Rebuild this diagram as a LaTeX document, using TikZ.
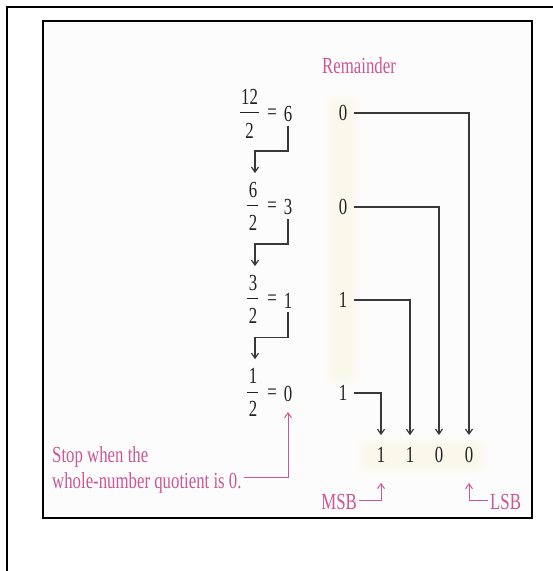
\documentclass[tikz,border=0pt]{standalone}
\usepackage{fontspec}
\setmainfont{Liberation Serif}[FakeStretch=0.73]
\usetikzlibrary{arrows.meta}
\definecolor{ink}{RGB}{34,34,34}
\definecolor{rose}{RGB}{204,86,150}
\definecolor{paper}{RGB}{253,252,252}
\definecolor{glow}{RGB}{246,244,200}

\begin{document}
\begin{tikzpicture}[x=1pt,y=-1pt,
  txt/.style={inner sep=0pt, text=ink, font=\fontsize{23}{27}\selectfont},
  lbl/.style={inner sep=0pt, text=rose, font=\fontsize{23}{27}\selectfont},
  bar/.style={draw=ink, line width=0.8pt},
  wire/.style={draw=ink!90, line width=1.2pt},
  pinkwire/.style={draw=rose, line width=1pt},
  tip/.style={-{Straight Barb[length=5pt,width=7pt]}},
]
% page and frames
\useasboundingbox (0,0) rectangle (553,571);
\fill[white] (0,0) rectangle (553,571);
\draw[line width=2pt] (7,571) -- (7,7) -- (553,7);
\draw[line width=2pt, fill=paper] (43,21) rectangle (532,518);

% soft highlighting behind the remainder column and the result
\foreach \g in {0,3,6,9}{
  \fill[glow, opacity=0.08, rounded corners=8pt] ({333-\g},{102-\g}) rectangle ({351+\g},{378+\g});
  \fill[glow, opacity=0.08, rounded corners=8pt] ({366-\g},{446-\g}) rectangle ({478+\g},{466+\g});
}

% heading
\node[lbl, anchor=base west] (head) at (322,73) {Remainder};

% successive divisions by 2
\node[txt] (n1) at (249.5,97) {12};
\node[txt] (d1) at (249.5,131) {2};
\draw[bar] (240,112) -- (259,112);
\node[txt] (e1) at (272,114) {=};
\node[txt] (q1) at (288,114) {6};

\node[txt] (n2) at (253,190) {6};
\node[txt] (d2) at (253,223) {2};
\draw[bar] (247,205) -- (258,205);
\node[txt] (e2) at (272,207) {=};
\node[txt] (q2) at (288,207) {3};

\node[txt] (n3) at (253,283) {3};
\node[txt] (d3) at (253,316) {2};
\draw[bar] (247,298.5) -- (258,298.5);
\node[txt] (e3) at (272,300.5) {=};
\node[txt] (q3) at (288,300.5) {1};

\node[txt] (n4) at (253,376) {1};
\node[txt] (d4) at (253,409) {2};
\draw[bar] (247,392) -- (258,392);
\node[txt] (e4) at (272,394) {=};
\node[txt] (q4) at (288,394) {0};

% quotient carried to the next division
\draw[wire,tip,shorten <=4pt,shorten >=9pt] (q1.south) -- ++(0,29) -| ([xshift=2pt]n2.north);
\draw[wire,tip,shorten <=4pt,shorten >=9pt] (q2.south) -- ++(0,29) -| ([xshift=2pt]n3.north);
\draw[wire,tip,shorten <=4pt,shorten >=9pt] (q3.south) -- ++(0,29) -| ([xshift=2pt]n4.north);

% remainders
\node[txt] (m1) at (343,113) {0};
\node[txt] (m2) at (343,207) {0};
\node[txt] (m3) at (343,300) {1};
\node[txt] (m4) at (343,393) {1};

% binary result
\node[txt] (b1) at (381,455) {1};
\node[txt] (b2) at (410,455) {1};
\node[txt] (b3) at (439,455) {0};
\node[txt] (b4) at (469,455) {0};

\draw[wire,tip,shorten <=7pt,shorten >=12pt] (m1.east) -| (b4.north);
\draw[wire,tip,shorten <=7pt,shorten >=12pt] (m2.east) -| (b3.north);
\draw[wire,tip,shorten <=7pt,shorten >=12pt] (m3.east) -| (b2.north);
\draw[wire,tip,shorten <=7pt,shorten >=12pt] (m4.east) -| (b1.north);

% annotations
\node[lbl, anchor=base west] (stop1) at (52,462) {Stop when the};
\node[lbl, anchor=base west] (stop2) at (52,488) {whole-number quotient is 0.};
\draw[pinkwire,tip,shorten <=2pt,shorten >=10pt] ([yshift=5pt]stop2.east) -| (q4.south);

\node[lbl, anchor=base east] (msb) at (357,509) {MSB};
\node[lbl, anchor=base west] (lsb) at (490,509) {LSB};
\draw[pinkwire,tip,shorten <=2pt,shorten >=20pt] ([yshift=1pt]msb.east) -| (b1.south);
\draw[pinkwire,tip,shorten <=2pt,shorten >=20pt] ([yshift=1pt]lsb.west) -| (b4.south);
\end{tikzpicture}
\end{document}
